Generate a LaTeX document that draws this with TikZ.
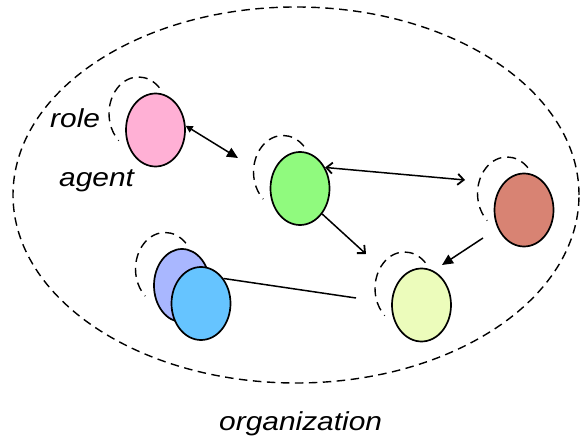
\documentclass[tikz,border=0pt]{standalone}
\usepackage{fontspec}
\usepackage{graphicx}
\setmainfont{Liberation Sans}
\usetikzlibrary{shapes.geometric,arrows.meta,calc}

\definecolor{cpink}{HTML}{FFB0D5}
\definecolor{cgreen}{HTML}{90FA7E}
\definecolor{cred}{HTML}{D88373}
\definecolor{cyellow}{HTML}{ECFCBB}
\definecolor{clavender}{HTML}{A9B7FF}
\definecolor{cblue}{HTML}{66C4FF}

\tikzset{
  agentnode/.style={ellipse, draw=black, line width=1.7pt, inner sep=0pt,
    minimum width=59pt, minimum height=73pt},
  orgline/.style={line width=1.4pt, dash pattern=on 8.5pt off 5.5pt},
  roleline/.style={line width=1.4pt, dash pattern=on 9pt off 6pt},
  link/.style={line width=1.5pt},
  barbtip/.tip={Straight Barb[length=6pt,width=11pt,line width=1.8pt]},
  bigtip/.tip={Triangle[length=11pt,width=10pt]},
  smalltip/.tip={Triangle[length=7pt,width=7pt]},
  label/.style={font=\fontsize{26}{30}\selectfont\itshape, inner sep=0pt, anchor=base west}
}

% dashed role outline: partial ellipse behind an agent, offset up-left
\newcommand\rolearc[1]{%
  \draw[roleline] ($(#1.center)+(3.86,42.31)$)
    arc[start angle=45, end angle=228, x radius=29.5, y radius=36.5];}

\newcommand\stretched[1]{\scalebox{1.15}[1]{#1}}

\begin{document}
\begin{tikzpicture}[x=1pt, y=1pt]
\useasboundingbox (0,0) rectangle (580,439);

% organization boundary
\draw[orgline] (296,244) ellipse[x radius=283, y radius=188];

% agent positions
\coordinate (pinkc) at (155.5,309);
\coordinate (greenc) at (300,250.5);
\coordinate (redc) at (524,229);
\coordinate (yellowc) at (421.5,134);
\coordinate (lavenderc) at (182,153.5);
\coordinate (bluec) at (201,135.5);

% role outlines
\rolearc{pinkc}
\rolearc{greenc}
\rolearc{redc}
\rolearc{yellowc}
\rolearc{lavenderc}

% agents
\node[agentnode, fill=cpink] (pink) at (pinkc) {};
\node[agentnode, fill=cgreen] (green) at (greenc) {};
\node[agentnode, fill=cred] (red) at (redc) {};
\node[agentnode, fill=cyellow] (yellow) at (yellowc) {};
\node[agentnode, fill=clavender, minimum width=56pt] (lavender) at (lavenderc) {};
\node[agentnode, fill=cblue] (blue) at (bluec) {};

% free ends of the connectors
\coordinate (pg) at (238,281);
\coordinate (gr) at (465,259);
\coordinate (gy) at (366,185);
\coordinate (ry0) at (483,201);
\coordinate (ry1) at (442,174);
\coordinate (bl) at (356,141);

% connectors
\draw[link, smalltip-bigtip] (pink.8) -- (pg);
\draw[link, barbtip-barbtip] (green.40) -- (gr);
\draw[link, -barbtip] (green.-49) -- (gy);
\draw[link, -bigtip] (ry0) -- (ry1);
\draw[link] (blue.48) -- (bl);

% labels
\node[label] (rolelbl) at (50,311) {\stretched{role}};
\node[label] (agentlbl) at (59,252) {\stretched{agent}};
\node[label] (orglbl) at (219,9) {\stretched{organization}};
\end{tikzpicture}
\end{document}
